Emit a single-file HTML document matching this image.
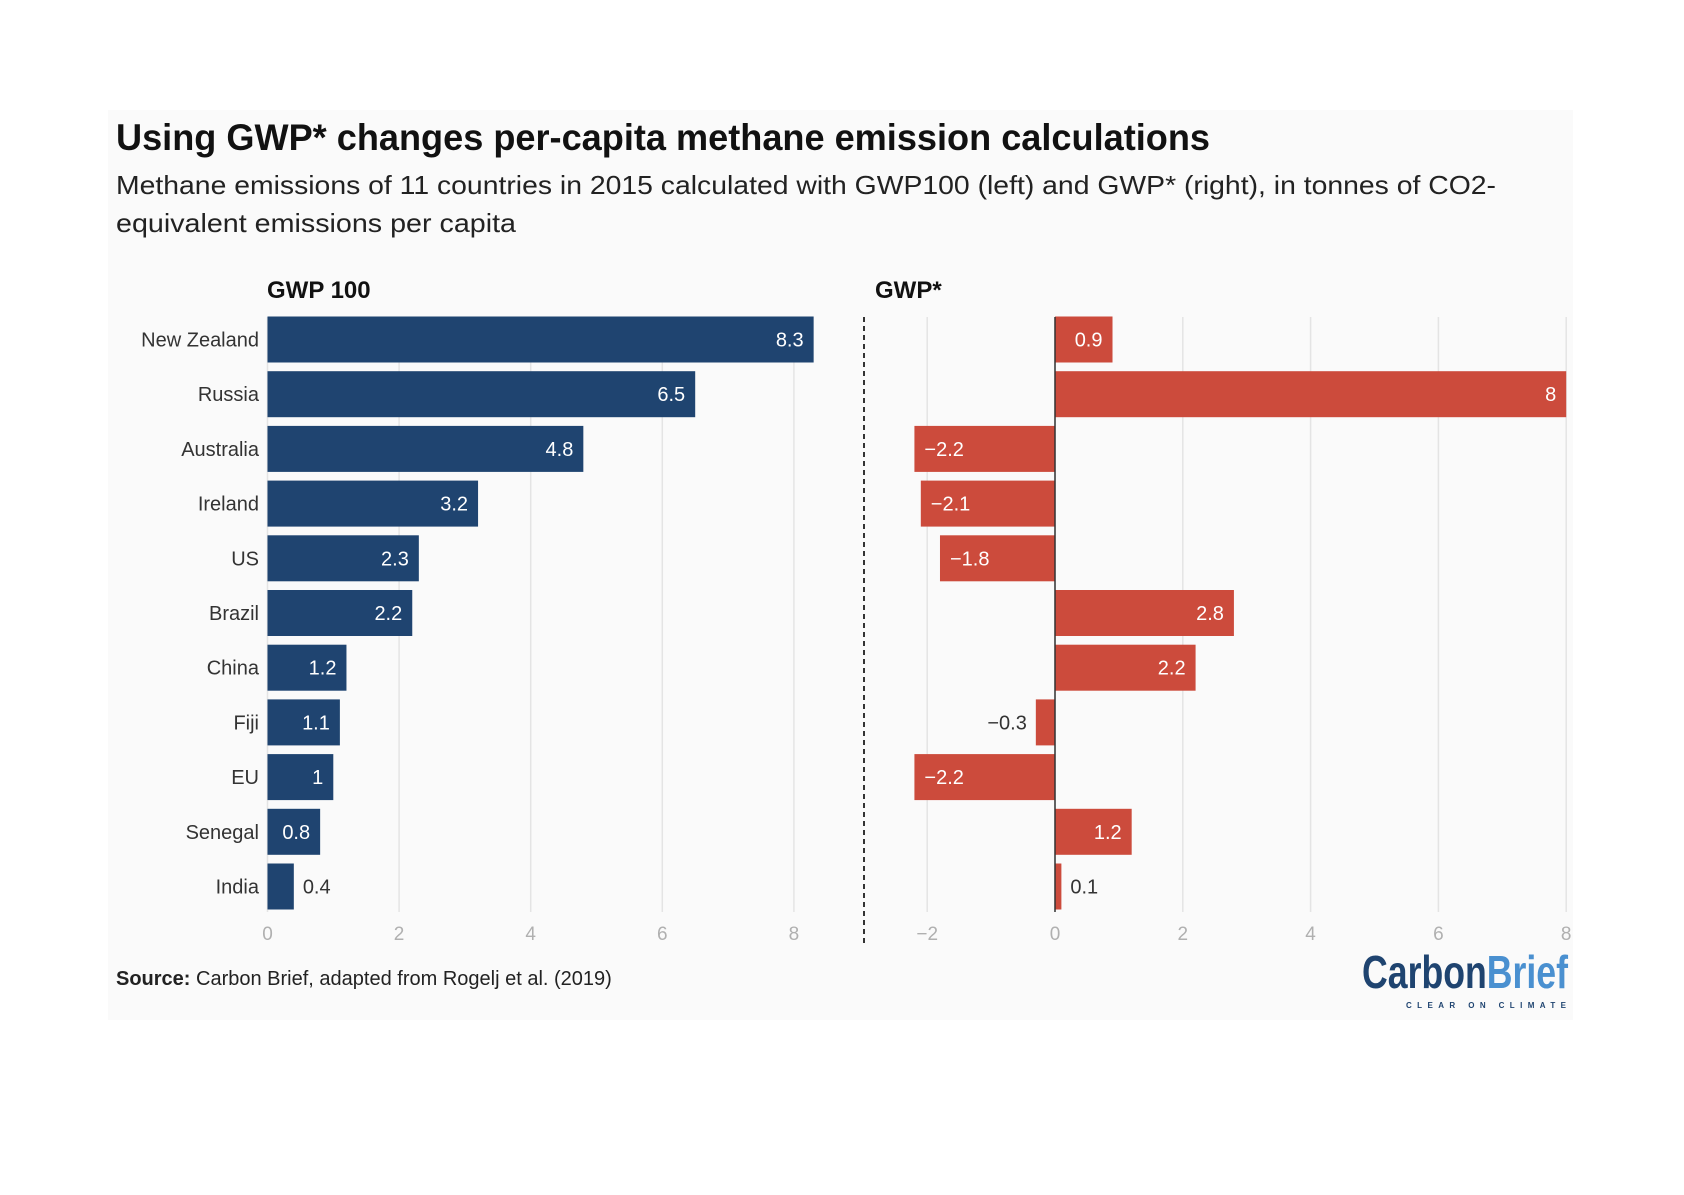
<!DOCTYPE html>
<html><head><meta charset="utf-8">
<style>
html,body{margin:0;padding:0;background:#fff;}
body{width:1684px;height:1190px;position:relative;overflow:hidden;font-family:"Liberation Sans",sans-serif;}
</style></head>
<body>
<svg id="chart" width="1684" height="1190" xmlns="http://www.w3.org/2000/svg" font-family="Liberation Sans, sans-serif">
<rect x="108" y="110" width="1465" height="910" fill="#fafafa"/>
<text x="116" y="150" font-size="37" font-weight="bold" fill="#111" textLength="1094" lengthAdjust="spacingAndGlyphs">Using GWP* changes per-capita methane emission calculations</text>
<text x="116" y="194" font-size="26" fill="#222" textLength="1380" lengthAdjust="spacingAndGlyphs">Methane emissions of 11 countries in 2015 calculated with GWP100 (left) and GWP* (right), in tonnes of CO2-</text>
<text x="116" y="232" font-size="26" fill="#222" textLength="400" lengthAdjust="spacingAndGlyphs">equivalent emissions per capita</text>
<text x="267" y="298" font-size="24" font-weight="bold" fill="#111">GWP 100</text>
<text x="875" y="298" font-size="24" font-weight="bold" fill="#111">GWP*</text>
<line x1="864" y1="317" x2="864" y2="946" stroke="#333" stroke-width="2" stroke-dasharray="5,4"/>
<g id="left"></g>
<g id="right"></g>
<text x="116" y="985" font-size="20" fill="#222"><tspan font-weight="bold">Source:</tspan> Carbon Brief, adapted from Rogelj et al. (2019)</text>
<g>
<text x="1362" y="988" font-size="46" font-weight="bold" textLength="206" lengthAdjust="spacingAndGlyphs"><tspan fill="#1f4470">Carbon</tspan><tspan fill="#4a90d0">Brief</tspan></text>
<text x="1406" y="1008" font-size="8" font-weight="bold" fill="#1f4470" textLength="160" lengthAdjust="spacing">CLEAR ON CLIMATE</text>
</g>
</svg>
<script>
const countries = ["New Zealand","Russia","Australia","Ireland","US","Brazil","China","Fiji","EU","Senegal","India"];
const gwp100 = [8.3,6.5,4.8,3.2,2.3,2.2,1.2,1.1,1,0.8,0.4];
const gwpStar = [0.9,8,-2.2,-2.1,-1.8,2.8,2.2,-0.3,-2.2,1.2,0.1];
const leftTicks = [0,2,4,6,8];
const rightTicks = [-2,0,2,4,6,8];

const NS="http://www.w3.org/2000/svg";
const rowY = i => 339.5 + i*54.7;
const barH = 46;
const xL = v => 267.5 + v*65.8;
const xR = v => 1055 + v*63.9;
function mk(tag, attrs, parent){const e=document.createElementNS(NS,tag);for(const k in attrs)e.setAttribute(k,attrs[k]);parent.appendChild(e);return e;}
const fmt = v => (v<0?"\u2212":"")+Math.abs(v);

function panel(g, vals, ticks, xf, color, prefix){
  ticks.forEach(t=>{
    const l=mk('line',{x1:xf(t),x2:xf(t),y1:317,y2:912,stroke:'#e4e4e4','stroke-width':1.5},g);
    
    
    const tx=mk('text',{x:xf(t),y:940,'font-size':19,fill:'#b0b0b0','text-anchor':'middle'},g);
    tx.textContent = t<0?"\u2212"+Math.abs(t):t;
    
    
  });
  vals.forEach((v,i)=>{
    const x0=xf(0), x1=xf(v);
    const r=mk('rect',{x:Math.min(x0,x1),y:rowY(i)-barH/2,width:Math.abs(x1-x0),height:barH,fill:color},g);
    
    
    const w=Math.abs(x1-x0);
    const t=mk('text',{y:rowY(i)+7,'font-size':20},g);
    t.textContent=fmt(v);
    
    
    if(w>45){
      t.setAttribute('fill','#fff');
      if(v>=0){t.setAttribute('x',x1-10);t.setAttribute('text-anchor','end');}
      else{t.setAttribute('x',x1+10);t.setAttribute('text-anchor','start');}
    } else {
      t.setAttribute('fill','#333');
      if(v>=0){t.setAttribute('x',x1+9);t.setAttribute('text-anchor','start');}
      else{t.setAttribute('x',x1-9);t.setAttribute('text-anchor','end');}
    }
  });
}
const L=document.getElementById('left'), R=document.getElementById('right');
panel(L,gwp100,leftTicks,xL,'#1f4470','left');
panel(R,gwpStar,rightTicks,xR,'#cc4b3c','right');
const ax=mk('line',{x1:xR(0),x2:xR(0),y1:317,y2:912,stroke:'#333','stroke-width':1.5},R);


countries.forEach((c,i)=>{
  const t=mk('text',{x:259,y:rowY(i)+7,'font-size':20,fill:'#333','text-anchor':'end'},L);
  t.textContent=c;
  
  
});
</script>
</body></html>
